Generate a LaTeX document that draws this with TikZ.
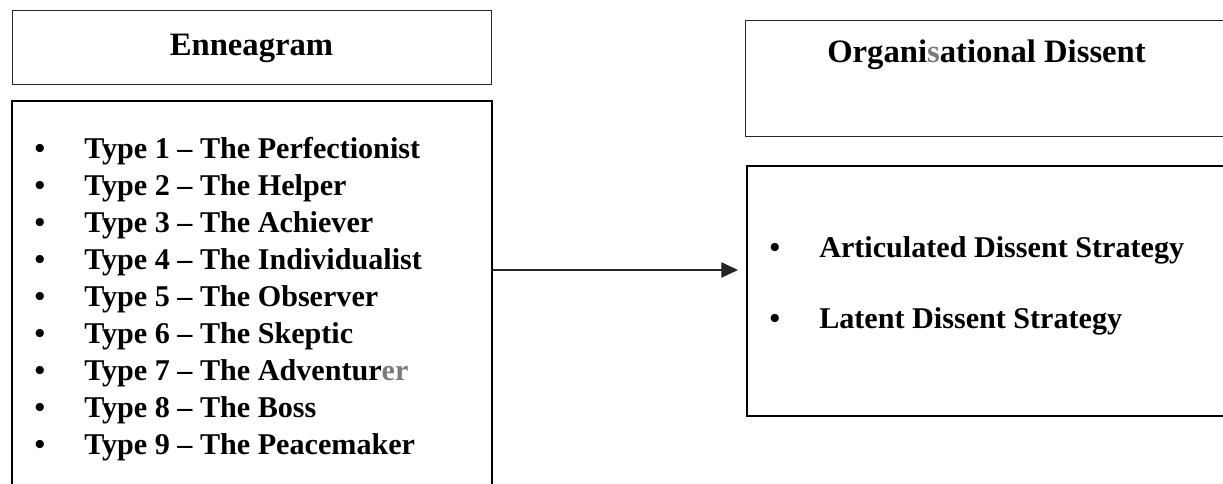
\documentclass[tikz,border=0pt]{standalone}
\usepackage{fontspec}
\setmainfont{Liberation Serif}
\usetikzlibrary{arrows.meta}
\definecolor{soft}{HTML}{7A7A7A}
\begin{document}
\begin{tikzpicture}[x=0.75pt,y=-0.75pt,
  thinbox/.style={draw=black!85,line width=0.9pt,inner sep=0pt,anchor=north west},
  thickbox/.style={draw=black,line width=1.7pt,inner sep=0pt,anchor=north west},
  titletext/.style={font=\fontsize{24.5}{29}\selectfont\bfseries,inner sep=0pt},
  itemtext/.style={font=\fontsize{22.6}{27}\selectfont\bfseries,inner sep=0pt,anchor=base west},
  bul/.style={font=\fontsize{22.6}{27}\selectfont\bfseries,inner sep=0pt,anchor=base},
  link/.style={draw=black!85,line width=0.9pt,-{Triangle[length=12.5pt,width=11.5pt]}}]
\useasboundingbox (0,0) rectangle (1223,483);
\clip (0,0) rectangle (1223,483);
% boxes
\node[thinbox,minimum width=359.25pt,minimum height=55.5pt] (etitle) at (12,10) {};
\node[thickbox,minimum width=360pt,minimum height=315pt] (elist) at (11,100) {};
\node[thinbox,minimum width=371.25pt,minimum height=87pt] (dtitle) at (745,20) {};
\node[thickbox,minimum width=370.5pt,minimum height=187.5pt] (dlist) at (746,165) {};
% titles
\node[titletext,anchor=base] (et) at (251.5,55) {Enneagram};
\node[titletext,anchor=base west] (dt) at (827,62) {Organi{\color{soft}s}ational Dissent};
% left list
\node[bul] (b1) at (40,158) {\textbullet};
\node[itemtext] (t1) at (84,158) {Type 1 -- The Perfectionist};
\node[bul] (b2) at (40,195.1) {\textbullet};
\node[itemtext] (t2) at (84,195.1) {Type 2 -- The Helper};
\node[bul] (b3) at (40,232.2) {\textbullet};
\node[itemtext] (t3) at (84,232.2) {Type 3 -- The Achiever};
\node[bul] (b4) at (40,269.3) {\textbullet};
\node[itemtext] (t4) at (84,269.3) {Type 4 -- The Individualist};
\node[bul] (b5) at (40,306.4) {\textbullet};
\node[itemtext] (t5) at (84,306.4) {Type 5 -- The Observer};
\node[bul] (b6) at (40,343.5) {\textbullet};
\node[itemtext] (t6) at (84,343.5) {Type 6 -- The Skeptic};
\node[bul] (b7) at (40,380.6) {\textbullet};
\node[itemtext] (t7) at (84,380.6) {Type 7 -- The Adventur{\color{soft}er}};
\node[bul] (b8) at (40,417.7) {\textbullet};
\node[itemtext] (t8) at (84,417.7) {Type 8 -- The Boss};
\node[bul] (b9) at (40,454.8) {\textbullet};
\node[itemtext] (t9) at (84,454.8) {Type 9 -- The Peacemaker};
% right list
\node[bul] (r1) at (775,257) {\textbullet};
\node[itemtext] (s1) at (819,257) {Articulated Dissent Strategy};
\node[bul] (r2) at (775,328) {\textbullet};
\node[itemtext] (s2) at (819,328) {Latent Dissent Strategy};
% connector
\coordinate (ay) at (0,270);
\draw[link] (elist.east |- ay) -- ([xshift=-6pt]dlist.west |- ay);
\end{tikzpicture}
\end{document}
